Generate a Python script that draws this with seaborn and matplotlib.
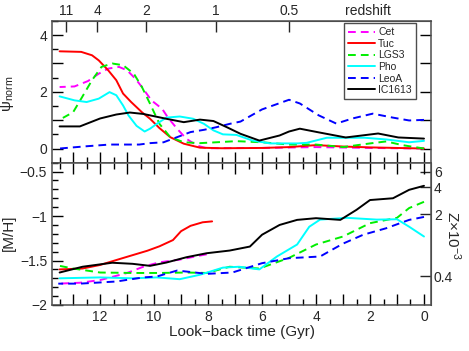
import numpy as np
import pandas as pd
import matplotlib
matplotlib.use("Agg")
import matplotlib.pyplot as plt
import seaborn as sns
from matplotlib.ticker import MultipleLocator, FuncFormatter, NullLocator

GALAXIES = ["Cet", "Tuc", "LGS3", "Pho", "LeoA", "IC1613"]
COLORS = {"Cet": "#ff00ff", "Tuc": "#ff0000", "LGS3": "#00ee00",
          "Pho": "#00ffff", "LeoA": "#0000ff", "IC1613": "#000000"}
DASHES = {"Cet": (4, 2.6), "Tuc": "", "LGS3": (4, 2.6),
          "Pho": "", "LeoA": (4, 2.6), "IC1613": ""}

# star formation history (psi_norm) vs look-back time
cet_sfh_t = [13.5, 12.95, 12.45, 12.05, 11.7, 11.3, 11.0, 10.7, 10.45, 10.1, 9.7, 9.5, 9.15, 8.8, 8.4, 8.05,
             6.0, 4.0, 2.0, 0.0]
cet_sfh = [2.17, 2.19, 2.38, 2.64, 2.82, 2.88, 2.76, 2.47, 2.17, 1.70, 1.4, 1.11, 0.7, 0.34, 0.1, 0.01,
           0.02, 0.05, 0.02, 0.0]

tuc_sfh_t = [13.5, 12.7, 12.3, 12.05, 11.7, 11.4, 11.15, 10.85, 10.45, 10.15, 9.8, 9.4, 8.9, 8.3, 7.5, 6.0,
             5.0, 4.0, 3.0, 2.0, 0.0]
tuc_sfh = [3.43, 3.41, 3.29, 3.11, 2.76, 2.41, 1.94, 1.64, 1.28, 1.05, 0.72, 0.4, 0.17, 0.03, 0.01, 0.02,
           0.05, 0.12, 0.07, 0.04, 0.0]

lgs3_sfh_t = [13.38, 13.0, 12.7, 12.3, 11.95, 11.55, 11.15, 10.75, 10.45, 10.15, 9.8, 9.4, 8.9, 8.3, 7.7,
              6.95, 6.0, 5.0, 4.0, 3.0, 2.0, 1.4, 0.8, 0.0]
lgs3_sfh = [1.08, 1.28, 1.76, 2.41, 2.88, 3.0, 2.94, 2.64, 2.17, 1.58, 0.87, 0.4, 0.22, 0.19, 0.22,
            0.26, 0.22, 0.14, 0.14, 0.05, 0.18, 0.25, 0.12, 0.0]

pho_sfh_t = [13.5, 12.95, 12.5, 12.05, 11.65, 11.4, 11.15, 10.95, 10.65, 10.35, 10.15, 9.9, 9.55, 9.05,
             8.55, 8.15, 7.8, 7.45, 6.95, 6.35, 5.7, 4.7, 4.35, 3.6, 2.2, 1.4, 0.55, 0.0]
pho_sfh = [1.84, 1.70, 1.64, 1.76, 1.99, 1.88, 1.52, 1.17, 0.8, 0.6, 0.7, 0.87, 1.09, 1.13,
           1.05, 0.87, 0.64, 0.5, 0.48, 0.28, 0.18, 0.18, 0.2, 0.38, 0.38, 0.32, 0.22, 0.27]

leoa_sfh_t = [13.5, 12.5, 11.65, 10.55, 10.15, 9.65, 9.15, 8.65, 8.15, 7.7, 7.2, 6.8, 6.0, 5.0, 4.6, 3.9,
              3.25, 2.65, 1.9, 1.15, 0.55, 0.0]
leoa_sfh = [0.0, 0.08, 0.14, 0.14, 0.19, 0.22, 0.4, 0.58, 0.66, 0.75, 0.87, 0.95, 1.38, 1.72, 1.59, 1.17,
            0.88, 1.06, 1.23, 1.09, 0.99, 1.01]

ic1613_sfh_t = [13.5, 12.75, 12.0, 11.4, 10.9, 10.4, 10.15, 9.55, 8.9, 8.3, 7.8, 7.3, 6.8, 6.1, 5.35, 5.0,
                4.6, 3.9, 2.9, 1.7, 0.95, 0.0]
ic1613_sfh = [0.78, 0.78, 1.06, 1.2, 1.27, 1.22, 1.17, 1.05, 0.93, 1.02, 0.97, 0.75, 0.52, 0.28, 0.46, 0.6,
              0.7, 0.57, 0.39, 0.53, 0.39, 0.35]

# age-metallicity relation ([M/H]) vs look-back time
cet_mh_t = [13.55, 12.75, 12.0, 11.0, 10.4, 9.8, 9.05, 8.4, 8.05]
cet_mh = [-1.76, -1.75, -1.72, -1.64, -1.57, -1.52, -1.49, -1.45, -1.43]

tuc_mh_t = [13.5, 12.65, 12.0, 11.35, 10.8, 10.25, 9.8, 9.3, 9.0, 8.65, 8.2, 7.85]
tuc_mh = [-1.60, -1.59, -1.55, -1.49, -1.44, -1.39, -1.34, -1.27, -1.17, -1.11, -1.07, -1.06]

lgs3_mh_t = [13.5, 13.0, 12.0, 10.8, 9.8, 8.8, 8.05, 7.2, 6.1, 5.0, 4.0, 3.0, 2.0, 1.0, 0.55, 0.0]
lgs3_mh = [-1.56, -1.59, -1.635, -1.64, -1.64, -1.635, -1.64, -1.57, -1.59, -1.47, -1.32, -1.23, -1.08,
           -1.02, -0.91, -0.84]

pho_mh_t = [13.5, 12.0, 10.8, 9.9, 9.05, 8.3, 7.45, 6.85, 6.1, 5.45, 4.7, 4.25, 3.85, 2.85, 1.75, 1.0,
            0.55, 0.0]
pho_mh = [-1.70, -1.69, -1.70, -1.69, -1.71, -1.66, -1.58, -1.57, -1.60, -1.455, -1.32, -1.12, -1.04,
          -1.02, -1.04, -1.036, -1.12, -1.23]

leoa_mh_t = [13.55, 12.75, 11.4, 10.4, 9.9, 9.15, 8.8, 8.05, 7.1, 6.0, 5.0, 3.85, 3.0, 2.25, 1.4, 0.55, 0.0]
leoa_mh = [-1.76, -1.76, -1.736, -1.69, -1.68, -1.613, -1.624, -1.65, -1.635, -1.53, -1.474, -1.455,
           -1.31, -1.21, -1.137, -1.043, -1.01]

ic1613_mh_t = [13.5, 12.65, 11.55, 10.8, 10.15, 9.55, 8.8, 8.05, 7.2, 6.45, 6.0, 5.35, 4.7, 4.0, 3.1,
               2.5, 2.0, 1.15, 0.55, 0.0]
ic1613_mh = [-1.635, -1.57, -1.525, -1.537, -1.56, -1.523, -1.463, -1.418, -1.388, -1.343, -1.21, -1.10,
             -1.043, -1.024, -1.043, -0.93, -0.82, -0.80, -0.705, -0.66]

# redshift axis (top) and metallicity Z axis (right)
z_labels = ["11", "4", "2", "1", "0.5"]
z_lookback = [13.26, 12.11, 10.3, 7.7, 5.0]
Z_ticks = [0.4, 2, 4, 6]
Z_SUN = 19.0  # in units of 1e-3


def long_frame(curves, value_name):
    parts = []
    for name, (t, v) in curves.items():
        parts.append(pd.DataFrame({"time": t, value_name: v, "galaxy": name}))
    return pd.concat(parts, ignore_index=True)


def only_even(v, pos):
    if abs(v - round(v)) < 1e-6 and int(round(v)) % 2 == 0:
        return f"{int(round(v))}"
    return ""


def minus_fmt(v, pos):
    return f"{v:g}".replace("-", "\u2212")


def style_axis(ax):
    for sp in ax.spines.values():
        sp.set_color("0.3")
        sp.set_linewidth(1.1)
    ax.tick_params(which="major", direction="in", length=8, width=1.0, color="black", labelsize=10)
    ax.tick_params(which="minor", direction="in", length=4, width=1.0, color="black")


sns.set_style("ticks")
plt.rcParams["font.family"] = ["Liberation Sans", "DejaVu Sans"]
plt.rcParams["mathtext.fontset"] = "custom"
plt.rcParams["mathtext.rm"] = "Liberation Sans"
plt.rcParams["mathtext.it"] = "Liberation Sans:italic"

sfh_df = long_frame({
    "Cet": (cet_sfh_t, cet_sfh), "Tuc": (tuc_sfh_t, tuc_sfh), "LGS3": (lgs3_sfh_t, lgs3_sfh),
    "Pho": (pho_sfh_t, pho_sfh), "LeoA": (leoa_sfh_t, leoa_sfh), "IC1613": (ic1613_sfh_t, ic1613_sfh),
}, "psi")
mh_df = long_frame({
    "Cet": (cet_mh_t, cet_mh), "Tuc": (tuc_mh_t, tuc_mh), "LGS3": (lgs3_mh_t, lgs3_mh),
    "Pho": (pho_mh_t, pho_mh), "LeoA": (leoa_mh_t, leoa_mh), "IC1613": (ic1613_mh_t, ic1613_mh),
}, "mh")

fig = plt.figure(figsize=(4.69, 3.51), dpi=100)
ax1 = fig.add_axes([0.111, 0.5365, 0.808, 0.4037])
ax2 = fig.add_axes([0.111, 0.1311, 0.808, 0.4054])

sns.lineplot(data=sfh_df, x="time", y="psi", hue="galaxy", style="galaxy", hue_order=GALAXIES,
             style_order=GALAXIES, palette=COLORS, dashes=DASHES, linewidth=1.4, errorbar=None,
             ax=ax1)
sns.lineplot(data=mh_df, x="time", y="mh", hue="galaxy", style="galaxy", hue_order=GALAXIES,
             style_order=GALAXIES, palette=COLORS, dashes=DASHES, linewidth=1.4, errorbar=None,
             legend=False, ax=ax2)

for ax in (ax1, ax2):
    ax.set_xlim(13.78, -0.26)
    style_axis(ax)
    ax.xaxis.set_major_locator(MultipleLocator(1))
    ax.xaxis.set_minor_locator(MultipleLocator(0.5))

# upper panel
ax1.set_ylim(-0.5, 4.5)
ax1.yaxis.set_major_locator(MultipleLocator(1))
ax1.yaxis.set_minor_locator(MultipleLocator(0.5))
ax1.yaxis.set_major_formatter(FuncFormatter(only_even))
ax1.tick_params(axis="x", which="both", top=False, labelbottom=False)
ax1.tick_params(axis="y", which="major", right=True)
ax1.tick_params(axis="y", which="minor", right=False)
ax1.set_xlabel("")
ax1.set_ylabel("ψ$_{\\mathrm{norm}}$", fontsize=11)
ax1.yaxis.set_label_coords(-0.095, 0.49)

sec_top = ax1.secondary_xaxis("top")
sec_top.set_xticks(z_lookback, labels=z_labels)
sec_top.xaxis.set_minor_locator(NullLocator())
sec_top.tick_params(direction="in", length=8, width=1.0, labelsize=10, pad=2)
sec_top.spines["top"].set_color("0.3")
ax1.annotate("redshift", xy=(0.834, 1.0), xycoords="axes fraction", xytext=(0, 2),
             textcoords="offset points", ha="center", va="bottom", fontsize=10)

handles, labels = ax1.get_legend_handles_labels()
ax1.legend(handles, labels, loc="upper right", bbox_to_anchor=(0.96, 0.985), fontsize=7.5,
           frameon=True, fancybox=False, framealpha=1, edgecolor="0.3", handlelength=2.6,
           handletextpad=0.3, labelspacing=0.15, borderpad=0.4, borderaxespad=0)
ax1.get_legend().get_frame().set_linewidth(1.0)

# lower panel
ax2.set_ylim(-2.0, -0.4)
ax2.yaxis.set_major_locator(MultipleLocator(0.5))
ax2.yaxis.set_minor_locator(MultipleLocator(0.1))
ax2.yaxis.set_major_formatter(FuncFormatter(minus_fmt))
ax2.xaxis.set_major_formatter(FuncFormatter(only_even))
ax2.tick_params(axis="x", which="both", top=True)
ax2.tick_params(axis="y", which="both", right=False)
ax2.set_xlabel("Look\u2212back time (Gyr)", fontsize=11, labelpad=1)
ax2.set_ylabel("[M/H]", fontsize=11)
ax2.yaxis.set_label_coords(-0.095, 0.51)

sec_right = ax2.secondary_yaxis("right", functions=(lambda m: Z_SUN * 10.0 ** np.asarray(m),
                                                    lambda z: np.log10(np.asarray(z) / Z_SUN)))
sec_right.set_yticks(Z_ticks, labels=[f"{z:g}" for z in Z_ticks])
sec_right.yaxis.set_minor_locator(NullLocator())
sec_right.tick_params(direction="in", length=8, width=1.0, labelsize=10, pad=2)
sec_right.spines["right"].set_color("0.3")
fig.text(0.967, 0.33, "Z\u00d710$^{-3}$", rotation=270, fontsize=11, ha="center", va="center")

fig.savefig("out.png", dpi=100)
